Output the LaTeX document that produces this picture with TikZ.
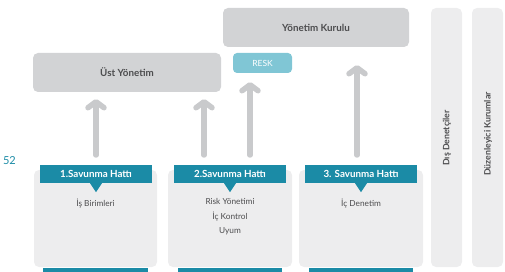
\documentclass[tikz,border=0pt]{standalone}
\usepackage{fontspec}
\setmainfont{Lato}
\usetikzlibrary{arrows.meta}
\definecolor{boxgray}{HTML}{D2D3D5}
\definecolor{panelgray}{HTML}{EDEDEE}
\definecolor{barteal}{HTML}{1B8BA6}
\definecolor{reskblue}{HTML}{80C6D5}
\definecolor{txtgray}{HTML}{4D4D4F}
\definecolor{arrowgray}{HTML}{C9CACC}
\begin{document}
\begin{tikzpicture}[x=1pt,y=-1pt,
  mgmt/.style={fill=boxgray, rounded corners=5pt, inner sep=0pt,
    minimum height=39pt, text=txtgray,
    font=\fontsize{9.8}{11}\selectfont\bfseries},
  reskbox/.style={fill=reskblue, rounded corners=4pt, inner sep=0pt,
    minimum width=59pt, minimum height=20pt, text=white,
    font=\fontsize{8.5}{9}\selectfont},
  sidebar/.style={fill=panelgray, rounded corners=5pt, inner sep=0pt,
    minimum width=31pt, minimum height=259pt},
  sidetext/.style={rotate=90, text=txtgray,
    font=\fontsize{8.8}{10}\selectfont\bfseries},
  panel/.style={fill=panelgray, rounded corners=5pt, inner sep=0pt,
    minimum height=97pt},
  header/.style={fill=barteal, inner sep=0pt, minimum width=112pt,
    minimum height=18pt, text=white,
    font=\fontsize{9.8}{10}\selectfont\bfseries},
  strip/.style={fill=barteal, inner sep=0pt, minimum height=4pt},
  paneltext/.style={align=center, text=txtgray, anchor=north,
    font=\fontsize{8.3}{14.5}\selectfont},
  uparrow/.style={draw=arrowgray, line width=5.5pt, line cap=round,
    -{Straight Barb[length=6pt,width=16pt,round]}}
]
\useasboundingbox (0,0) rectangle (505,272);

% management bodies
\node[mgmt, minimum width=188pt] (ust) at (127,72.5) {Üst Yönetim};
\node[mgmt, minimum width=186pt] (kurul) at (316,27.5) {Yönetim Kurulu};
\node[reskbox] (resk) at (262.5,63) {RESK};

% external parties
\node[sidebar] (dis) at (446.5,137.5) {};
\node[sidebar] (duz) at (487.5,137.5) {};
\node[sidetext] (distxt) at (447,138) {Dış Denetçiler};
\node[sidetext] (duztxt) at (488,134) {Düzenleyici Kurumlar};

% page number
\node[text=barteal, font=\fontsize{11}{12}\selectfont] (num) at (9.5,160.5) {52};

% lines of defence: panels
\node[panel, minimum width=123pt] (b1) at (95.5,218.5) {};
\node[panel, minimum width=124pt] (b2) at (230,218.5) {};
\node[panel, minimum width=124pt] (b3) at (361,218.5) {};

% headers with pointers
\node[header] (h1) at (96,174) {1.Savunma Hattı};
\node[header] (h2) at (230,174) {2.Savunma Hattı};
\node[header] (h3) at (361,174) {3. Savunma Hattı};
\foreach \h in {h1,h2,h3}{
  \fill[barteal] ([xshift=-6pt]\h.south) -- ([xshift=6pt]\h.south)
    -- ([yshift=-9pt]\h.south) -- cycle;
}

% panel contents
\node[paneltext] (t1) at (95.5,195) {İş Birimleri};
\node[paneltext] (t2) at (230,195) {Risk Yönetimi\\İç Kontrol\\Uyum};
\node[paneltext] (t3) at (361,195) {İç Denetim};

% bottom strips
\node[strip, minimum width=105pt] (s1) at (95.5,270) {};
\node[strip, minimum width=104pt] (s2) at (230,270) {};
\node[strip, minimum width=104pt] (s3) at (361,270) {};

% reporting arrows
\coordinate (a1s) at (96,155);  \coordinate (a1e) at (96,99);
\coordinate (a2s) at (204,155); \coordinate (a2e) at (204,99);
\coordinate (a3s) at (250,155); \coordinate (a3e) at (250,82);
\coordinate (a4s) at (357,155); \coordinate (a4e) at (357,65);
\draw[uparrow] (a1s) -- (a1e);
\draw[uparrow] (a2s) -- (a2e);
\draw[uparrow] (a3s) -- (a3e);
\draw[uparrow] (a4s) -- (a4e);
\end{tikzpicture}
\end{document}
